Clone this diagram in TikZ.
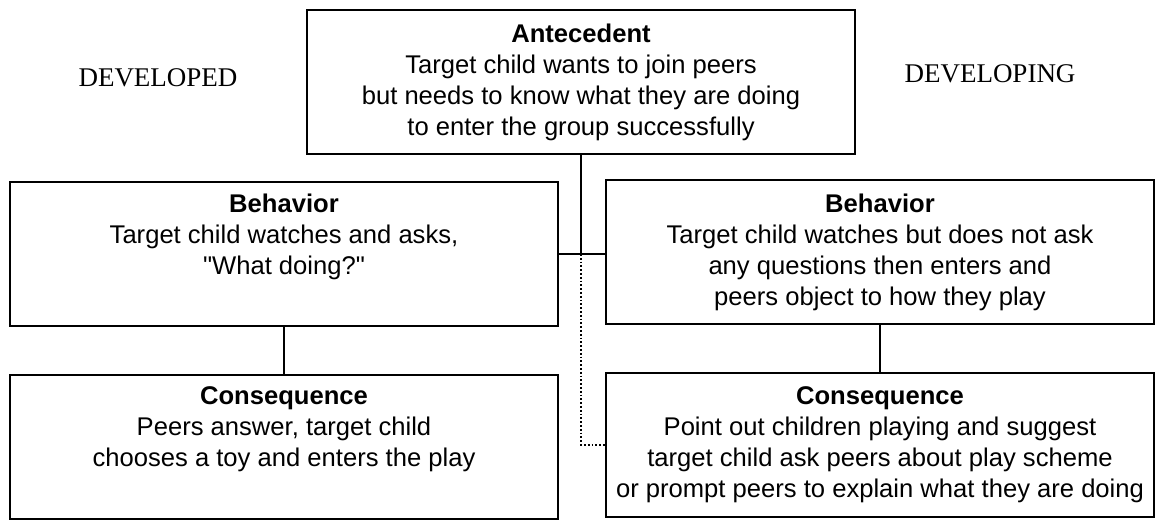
\documentclass[tikz,border=0pt]{standalone}
\usepackage{fontspec}
\setmainfont{Liberation Sans}
\newfontfamily\sidefont{Liberation Serif}
\usepackage{tikz}
\usetikzlibrary{positioning}

\begin{document}
\begin{tikzpicture}[
  x=0.5pt, y=-0.5pt,
  abcbox/.style={rectangle, draw, line width=0.9pt,
                 minimum width=274pt, minimum height=72pt,
                 align=center, inner sep=2pt,
                 font=\fontsize{12.8}{15.5}\selectfont},
  sidelabel/.style={font=\sidefont\fontsize{13.5}{16}\selectfont},
  link/.style={line width=0.9pt},
  dlink/.style={line width=0.9pt, densely dotted}
]
\useasboundingbox (0,0) rectangle (1156,522);

%% --- Antecedent (top) ---
\node[abcbox] (ante) at (581,82)
    {\textbf{Antecedent}\\Target child wants to join peers\\
     but needs to know what they are doing\\to enter the group successfully};

%% --- Column headings ---
\node[sidelabel] (developed) at (158,78) {DEVELOPED};
\node[sidelabel] (developing) at (990,74) {DEVELOPING};

%% --- Behavior boxes ---
\node[abcbox] (behleft) at (284,254)
    {\textbf{Behavior}\\Target child watches and asks,\\
     \textquotedbl What doing?\textquotedbl\\ \strut};
\node[abcbox] (behright) at (880,252)
    {\textbf{Behavior}\\Target child watches but does not ask\\
     any questions then enters and\\peers object to how they play};

%% --- Consequence boxes ---
\node[abcbox, below=23.5pt of behleft] (consleft)
    {\textbf{Consequence}\\Peers answer, target child\\
     chooses a toy and enters the play\\ \strut};
\node[abcbox, below=23.5pt of behright] (consright)
    {\textbf{Consequence}\\Point out children playing and suggest\\
     target child ask peers about play scheme\\
     or prompt peers to explain what they are doing};

%% --- Connectors ---
\coordinate (hub) at (ante.south |- behleft.east);
\draw[link] (ante.south) -- (hub);
\draw[link] (behleft.east) -- (behleft.east -| behright.west);
\draw[link] (behleft.south) -- (consleft.north);
\draw[link] (behright.south) -- (consright.north);
\draw[dlink] (hub) |- (consright.west);

\end{tikzpicture}
\end{document}
